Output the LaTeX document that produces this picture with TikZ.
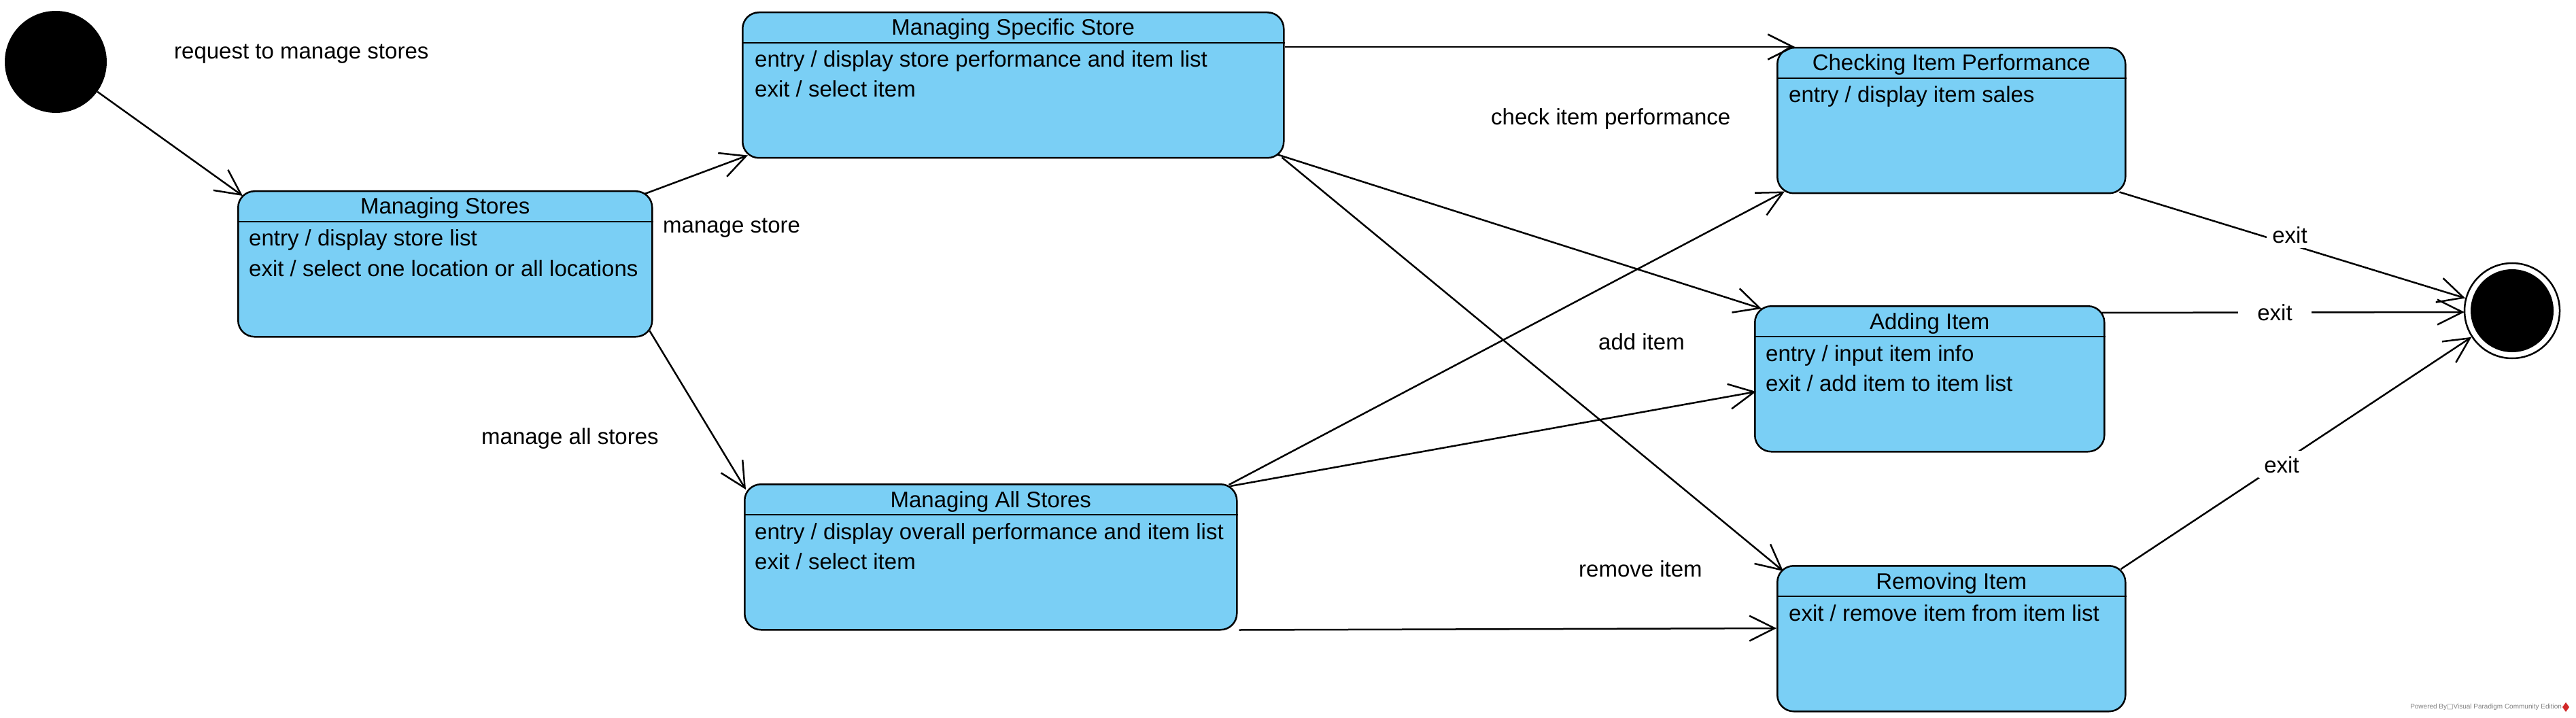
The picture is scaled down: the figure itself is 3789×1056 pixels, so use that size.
\documentclass[tikz,border=0pt]{standalone}
\usepackage{fontspec}
\setmainfont{Liberation Sans}
\newfontfamily\symfont{DejaVu Sans}
\usetikzlibrary{arrows.meta,calc}
\definecolor{statefill}{RGB}{122,207,245}
\definecolor{logored}{RGB}{210,40,40}
\newcommand\mainsz{\fontsize{33}{40}\selectfont}
\begin{document}
\begin{tikzpicture}[x=1pt,y=-1pt,
  every node/.append style={font=\mainsz},
  statebox/.style={draw=black, line width=2.5pt, fill=statefill, rounded corners=24pt, inner sep=0pt, minimum height=214pt, anchor=north west},
  hdrline/.style={line width=2.5pt},
  stitle/.style={anchor=base, inner sep=0pt},
  sbody/.style={anchor=base west, inner sep=0pt},
  lbl/.style={anchor=base west, inner sep=0pt},
  exitlbl/.style={anchor=base, fill=white, inner sep=8pt},
  conn/.style={line width=2.5pt, -{Straight Barb[length=37pt,width=37pt]}},
]
\useasboundingbox (0,0) rectangle (3789,1056);

% initial and final states
\node[circle, fill=black, minimum size=150pt, inner sep=0pt] (init) at (82,91) {};
\node[circle, draw=black, line width=2.5pt, minimum size=140pt, inner sep=0pt] (fin) at (3695,457) {};
\fill[black] (fin.center) circle (61pt);

% Managing Stores
\node[statebox, minimum width=609pt] (ms) at (349,280) {};
\draw[hdrline] ($(ms.north west)+(0,46)$) -- ($(ms.north east)+(0,46)$);
\node[stitle] (mst) at ($(ms.north)+(0,35)$) {Managing Stores};
\node[sbody] (mse) at ($(ms.north west)+(17,82)$) {entry / display store list};
\node[sbody] (msx) at ($(ms.north west)+(17,126)$) {exit / select one location or all locations};

% Managing Specific Store
\node[statebox, minimum width=796pt] (mss) at (1091,17) {};
\draw[hdrline] ($(mss.north west)+(0,46)$) -- ($(mss.north east)+(0,46)$);
\node[stitle] (msst) at ($(mss.north)+(0,35)$) {Managing Specific Store};
\node[sbody] (msse) at ($(mss.north west)+(19,82)$) {entry / display store performance and item list};
\node[sbody] (mssx) at ($(mss.north west)+(19,126)$) {exit / select item};

% Managing All Stores
\node[statebox, minimum width=724pt] (mas) at (1094,711) {};
\draw[hdrline] ($(mas.north west)+(0,46)$) -- ($(mas.north east)+(0,46)$);
\node[stitle] (mast) at ($(mas.north)+(0,35)$) {Managing All Stores};
\node[sbody] (mase) at ($(mas.north west)+(16,82)$) {entry / display overall performance and item list};
\node[sbody] (masx) at ($(mas.north west)+(16,126)$) {exit / select item};

% Checking Item Performance
\node[statebox, minimum width=512pt] (cip) at (2613,69) {};
\draw[hdrline] ($(cip.north west)+(0,46)$) -- ($(cip.north east)+(0,46)$);
\node[stitle] (cipt) at ($(cip.north)+(0,35)$) {Checking Item Performance};
\node[sbody] (cipe) at ($(cip.north west)+(18,82)$) {entry / display item sales};

% Adding Item
\node[statebox, minimum width=514pt] (ai) at (2580,449) {};
\draw[hdrline] ($(ai.north west)+(0,46)$) -- ($(ai.north east)+(0,46)$);
\node[stitle] (ait) at ($(ai.north)+(0,35)$) {Adding Item};
\node[sbody] (aie) at ($(ai.north west)+(17,82)$) {entry / input item info};
\node[sbody] (aix) at ($(ai.north west)+(17,126)$) {exit / add item to item list};

% Removing Item
\node[statebox, minimum width=512pt] (ri) at (2613,831) {};
\draw[hdrline] ($(ri.north west)+(0,46)$) -- ($(ri.north east)+(0,46)$);
\node[stitle] (rit) at ($(ri.north)+(0,35)$) {Removing Item};
\node[sbody] (rix) at ($(ri.north west)+(18,82)$) {exit / remove item from item list};

% connectors
\draw[conn] (init) -- ($(ms.north west)+(8,8)$);
\draw[conn] ($(ms.north east)+(-12,5)$) -- ($(mss.south west)+(9,-5)$);
\draw[conn] ($(ms.south east)+(-5,-10)$) -- ($(mas.north west)+(3,9)$);
\draw[conn] ($(mss.north east)+(0,52)$) -- ($(cip.north west)+(27,0)$);
\draw[conn] ($(mss.south east)+(-10,-6)$) -- ($(ai.north west)+(11,5)$);
\draw[conn] ($(mss.south east)+(-4,-2)$) -- ($(ri.north west)+(10,9)$);
\draw[conn] ($(mas.north east)+(-13,2)$) -- ($(cip.south west)+(12,-4)$);
\draw[conn] ($(mas.north east)+(-11,4)$) -- ($(ai.north west)+(3,127)$);
\draw[conn] ($(mas.south east)+(2,-1)$) -- ($(ri.north west)+(0,93)$);
\draw[conn] ($(cip.south east)+(-10,-3)$) -- (fin.165);
\draw[conn] ($(ai.north east)+(-5,11)$) -- ($(fin.west)+(1,2)$);
\draw[conn] ($(ri.north east)+(-8,6)$) -- (fin.-147);

% transition labels
\node[lbl] (l1) at (256,87) {request to manage stores};
\node[lbl] (l2) at (975,343) {manage store};
\node[lbl] (l3) at (708,653) {manage all stores};
\node[lbl] (l4) at (2193,184) {check item performance};
\node[lbl] (l5) at (2351,514) {add item};
\node[lbl] (l6) at (2322,848) {remove item};
\node[exitlbl] (e1) at (3368,357) {exit};
\node[exitlbl, inner xsep=28pt] (e2) at (3346,471) {exit};
\node[exitlbl] (e3) at (3356,695) {exit};

% watermark
\node[anchor=west, inner sep=0pt, text=gray, font=\fontsize{10}{12}\selectfont] (wm) at (3545,1040) {Powered By{\symfont □}Visual Paradigm Community Edition};
\fill[logored] (3774,1033) -- (3779,1040) -- (3774,1047) -- (3769,1040) -- cycle;
\end{tikzpicture}
\end{document}
